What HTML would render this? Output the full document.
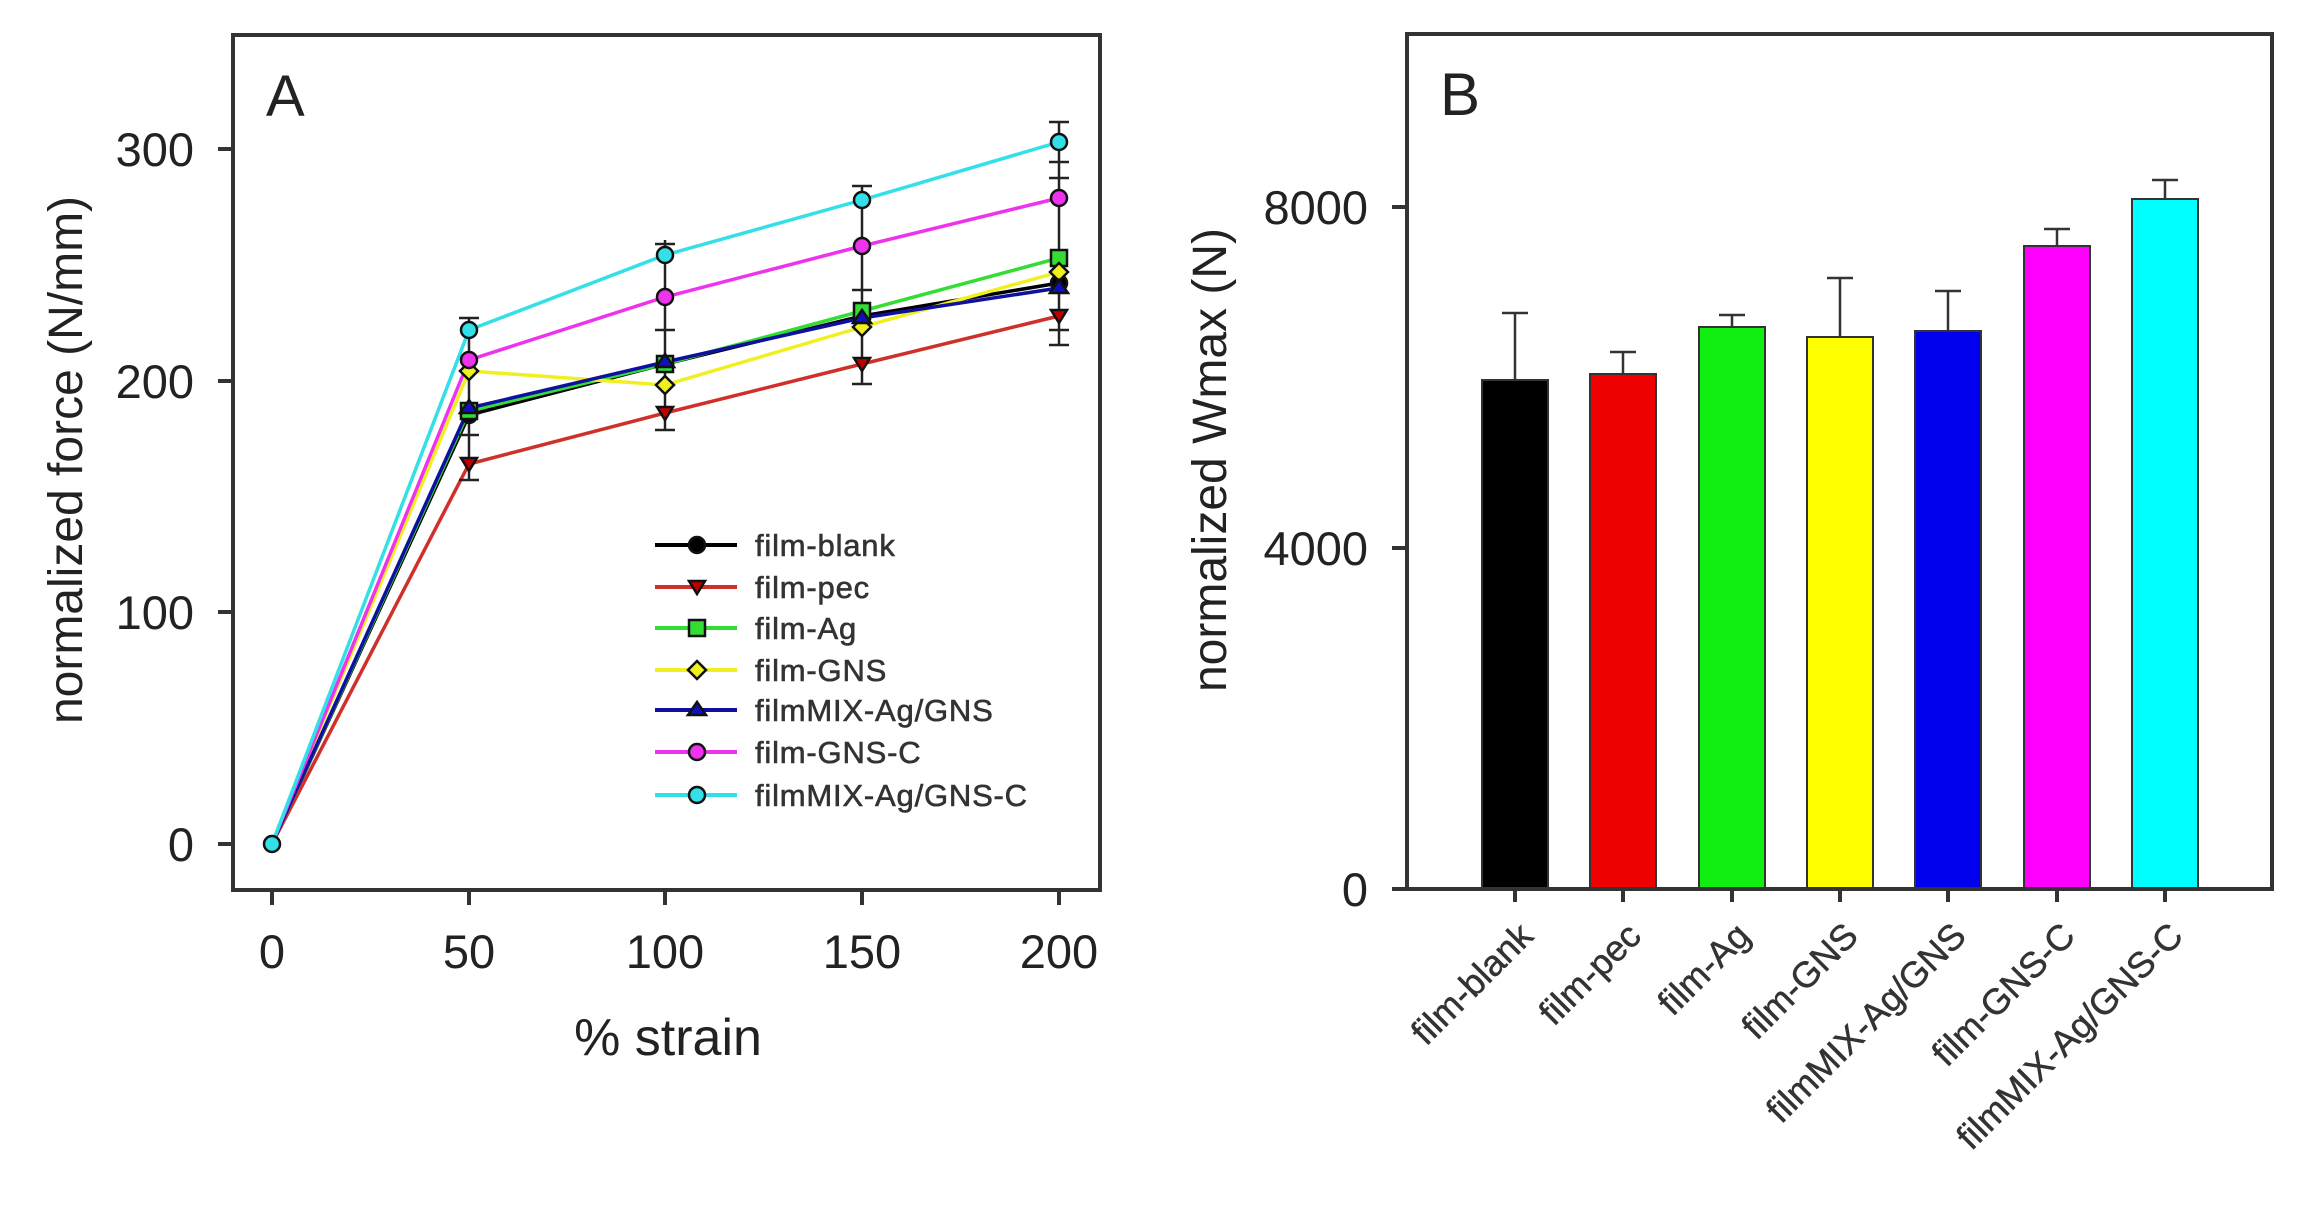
<!DOCTYPE html>
<html><head><meta charset="utf-8"><style>html,body{margin:0;padding:0;background:#fff}svg{display:block}</style></head><body>
<svg width="2305" height="1210" viewBox="0 0 2305 1210" xmlns="http://www.w3.org/2000/svg" font-family="Liberation Sans, Arial, sans-serif" fill="#222">
<!-- Panel A -->
<rect x="233" y="35" width="867" height="855" fill="none" stroke="#333" stroke-width="4"/>
<g stroke="#333" stroke-width="4">
<line x1="218" y1="844" x2="233" y2="844"/><line x1="218" y1="612" x2="233" y2="612"/><line x1="218" y1="381" x2="233" y2="381"/><line x1="218" y1="149" x2="233" y2="149"/>
<line x1="272" y1="890" x2="272" y2="905"/><line x1="469" y1="890" x2="469" y2="905"/><line x1="665" y1="890" x2="665" y2="905"/><line x1="862" y1="890" x2="862" y2="905"/><line x1="1059" y1="890" x2="1059" y2="905"/>
</g>
<g font-size="47" text-anchor="end"><text x="194" y="861">0</text><text x="194" y="629">100</text><text x="194" y="398">200</text><text x="194" y="166">300</text></g>
<g font-size="47" text-anchor="middle"><text x="272" y="968">0</text><text x="469" y="968">50</text><text x="665" y="968">100</text><text x="862" y="968">150</text><text x="1059" y="968">200</text></g>
<text x="668" y="1055" font-size="52" text-anchor="middle">% strain</text>
<text transform="translate(82,460) rotate(-90)" font-size="48" text-anchor="middle">normalized force (N/mm)</text>
<text x="266" y="116" font-size="58">A</text>
<g fill="none" stroke-width="3.5">
<polyline stroke="#000" points="272,844 469,415 665,364 862,316 1059,283"/>
<polyline stroke="#d0302a" points="272,844 469,464 665,413 862,364 1059,316"/>
<polyline stroke="#33dd33" points="272,844 469,411 665,364 862,311 1059,258"/>
<polyline stroke="#f0f020" points="272,844 469,371 665,385 862,327 1059,272"/>
<polyline stroke="#1010a0" points="272,844 469,408 665,362 862,318 1059,288"/>
<polyline stroke="#ee33ee" points="272,844 469,360 665,297 862,246 1059,198"/>
<polyline stroke="#33e0e8" points="272,844 469,330 665,255 862,200 1059,142"/>
</g>
<g stroke="#222" stroke-width="2.5">
<line x1="469" y1="318" x2="469" y2="480"/><line x1="459" y1="480" x2="479" y2="480"/><line x1="459" y1="435" x2="479" y2="435"/><line x1="459" y1="318" x2="479" y2="318"/>
<line x1="665" y1="240" x2="665" y2="430"/><line x1="655" y1="430" x2="675" y2="430"/><line x1="655" y1="330" x2="675" y2="330"/><line x1="655" y1="244" x2="675" y2="244"/>
<line x1="862" y1="186" x2="862" y2="384"/><line x1="852" y1="384" x2="872" y2="384"/><line x1="852" y1="290" x2="872" y2="290"/><line x1="852" y1="186" x2="872" y2="186"/>
<line x1="1059" y1="122" x2="1059" y2="345"/><line x1="1049" y1="345" x2="1069" y2="345"/><line x1="1049" y1="330" x2="1069" y2="330"/><line x1="1049" y1="178" x2="1069" y2="178"/><line x1="1049" y1="162" x2="1069" y2="162"/><line x1="1049" y1="122" x2="1069" y2="122"/>
</g>
<g stroke="#111" stroke-width="2.5">
<circle cx="272" cy="844" r="8" fill="#33e0e8"/>
<circle cx="469" cy="415" r="8" fill="#000"/><circle cx="665" cy="364" r="8" fill="#000"/><circle cx="862" cy="316" r="8" fill="#000"/><circle cx="1059" cy="283" r="8" fill="#000"/>
<path d="M461,458h16l-8,13z M657,407h16l-8,13z M854,358h16l-8,13z M1051,310h16l-8,13z" fill="#c00000"/>
<rect x="461" y="403" width="16" height="16" fill="#33dd33"/><rect x="657" y="356" width="16" height="16" fill="#33dd33"/><rect x="854" y="303" width="16" height="16" fill="#33dd33"/><rect x="1051" y="250" width="16" height="16" fill="#33dd33"/>
<path d="M469,362l9,9l-9,9l-9,-9z M665,376l9,9l-9,9l-9,-9z M862,318l9,9l-9,9l-9,-9z M1059,263l9,9l-9,9l-9,-9z" fill="#f0f020"/>
<path d="M469,400l9,13h-18z M665,354l9,13h-18z M862,310l9,13h-18z M1059,280l9,13h-18z" fill="#1010c0"/>
<circle cx="469" cy="360" r="8" fill="#ee33ee"/><circle cx="665" cy="297" r="8" fill="#ee33ee"/><circle cx="862" cy="246" r="8" fill="#ee33ee"/><circle cx="1059" cy="198" r="8" fill="#ee33ee"/>
<circle cx="469" cy="330" r="8" fill="#33e0e8"/><circle cx="665" cy="255" r="8" fill="#33e0e8"/><circle cx="862" cy="200" r="8" fill="#33e0e8"/><circle cx="1059" cy="142" r="8" fill="#33e0e8"/>
</g>
<!-- legend -->
<g stroke-width="4">
<line x1="655" y1="545" x2="737" y2="545" stroke="#000"/><line x1="655" y1="587" x2="737" y2="587" stroke="#d0302a"/><line x1="655" y1="628" x2="737" y2="628" stroke="#33dd33"/><line x1="655" y1="670" x2="737" y2="670" stroke="#f0f020"/><line x1="655" y1="710" x2="737" y2="710" stroke="#1010a0"/><line x1="655" y1="752" x2="737" y2="752" stroke="#ee33ee"/><line x1="655" y1="795" x2="737" y2="795" stroke="#33e0e8"/>
</g>
<g stroke="#111" stroke-width="2.5">
<circle cx="697" cy="545" r="8" fill="#000"/><path d="M689,581h16l-8,13z" fill="#c00000"/><rect x="689" y="620" width="16" height="16" fill="#33dd33"/><path d="M697,661l9,9l-9,9l-9,-9z" fill="#f0f020"/><path d="M697,702l9,13h-18z" fill="#1010c0"/><circle cx="697" cy="752" r="8" fill="#ee33ee"/><circle cx="697" cy="795" r="8" fill="#33e0e8"/>
</g>
<g font-size="31" fill="#333" letter-spacing="0.8" stroke="#333" stroke-width="0.6"><text x="755" y="556">film-blank</text><text x="755" y="598">film-pec</text><text x="755" y="639">film-Ag</text><text x="755" y="681">film-GNS</text><text x="755" y="721">filmMIX-Ag/GNS</text><text x="755" y="763">film-GNS-C</text><text x="755" y="806">filmMIX-Ag/GNS-C</text></g>
<!-- Panel B -->
<g stroke="#333" stroke-width="2">
<rect x="1482" y="380" width="66" height="509" fill="#000"/>
<rect x="1590" y="374" width="66" height="515" fill="#ee0000"/>
<rect x="1699" y="327" width="66" height="562" fill="#11ee11"/>
<rect x="1807" y="337" width="66" height="552" fill="#ffff00"/>
<rect x="1915" y="331" width="66" height="558" fill="#0000ee"/>
<rect x="2024" y="246" width="66" height="643" fill="#ff00ff"/>
<rect x="2132" y="199" width="66" height="690" fill="#00ffff"/>
</g>
<g stroke="#333" stroke-width="2.5">
<path d="M1515,380V313M1502,313h26 M1623,374V352M1610,352h26 M1732,327V315M1719,315h26 M1840,337V278M1827,278h26 M1948,331V291M1935,291h26 M2057,246V229M2044,229h26 M2165,199V180M2152,180h26"/>
</g>
<rect x="1407" y="34" width="865" height="855" fill="none" stroke="#333" stroke-width="4"/>
<g stroke="#333" stroke-width="4">
<line x1="1392" y1="889" x2="1407" y2="889"/><line x1="1392" y1="548" x2="1407" y2="548"/><line x1="1392" y1="207" x2="1407" y2="207"/>
<path d="M1515,889v13M1623,889v13M1732,889v13M1840,889v13M1948,889v13M2057,889v13M2165,889v13"/>
</g>
<g font-size="47" text-anchor="end"><text x="1368" y="906">0</text><text x="1368" y="565">4000</text><text x="1368" y="224">8000</text></g>
<text transform="translate(1226,460) rotate(-90)" font-size="48" text-anchor="middle">normalized Wmax (N)</text>
<text x="1440" y="115" font-size="60">B</text>
<g font-size="36" text-anchor="end" fill="#333" stroke="#333" stroke-width="0.5">
<text transform="translate(1535,938) rotate(-45)">film-blank</text>
<text transform="translate(1643,938) rotate(-45)">film-pec</text>
<text transform="translate(1752,938) rotate(-45)">film-Ag</text>
<text transform="translate(1860,938) rotate(-45)">film-GNS</text>
<text transform="translate(1968,938) rotate(-45)">filmMIX-Ag/GNS</text>
<text transform="translate(2077,938) rotate(-45)">film-GNS-C</text>
<text transform="translate(2185,938) rotate(-45)">filmMIX-Ag/GNS-C</text>
</g>
</svg>
</body></html>
